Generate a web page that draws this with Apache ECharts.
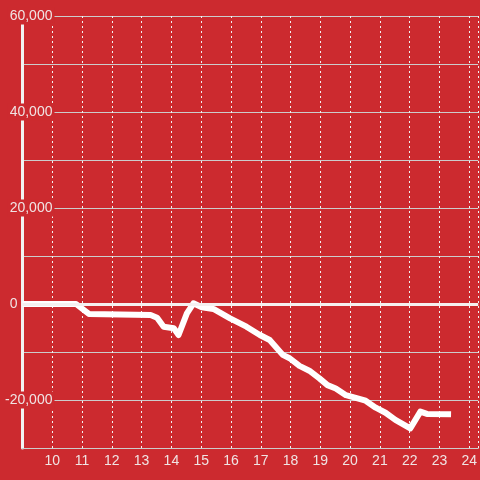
<!DOCTYPE html>
<html>
<head>
    <meta charset="utf-8">
    <title>line</title>
    <script src="https://cdn.jsdelivr.net/npm/echarts@6/dist/echarts.min.js"></script>
    <style>
        *{ margin:0; padding:0; }
        body{ background:#cc2a2f; }
        #main{ width:480px; height:480px; }
    </style>
</head>
<body>
<div id="main"></div>
<script type="text/javascript">
    // x positions (hours) and values
    var xs = [9, 10.8, 11.23, 13.3, 13.52, 13.74, 14.08, 14.24, 14.52, 14.74, 15.02, 15.41,
              15.97, 16.52, 16.97, 17.3, 17.74, 17.97, 18.3, 18.63, 18.97, 19.24, 19.52,
              19.86, 20.13, 20.52, 20.86, 21.19, 21.52, 22.02, 22.36, 22.58, 23.39];
    var ys = [0, 0, -2080, -2290, -2850, -4730, -5060, -6460, -1940, 150, -690, -1040,
              -2980, -4730, -6460, -7500, -10600, -11300, -12900, -13900, -15500, -16900, -17600,
              -19000, -19450, -20150, -21600, -22650, -24150, -25900, -22430, -22900, -22980];
    var xTicks = [10, 11, 12, 13, 14, 15, 16, 17, 18, 19, 20, 21, 22, 23, 24];
    var yTicks = [-20000, 20000, 40000, 60000];

    var bg = '#cc2a2f';
    var txt = '#f0e4e4';

    var data = [];
    for (var i = 0; i < xs.length; i++) {
        data.push([xs[i], ys[i]]);
    }

    var chart = echarts.init(document.getElementById('main'));
    var option = {
        backgroundColor: bg,
        animation: false,
        grid: { left: 21, right: 0, top: 16, bottom: 32 },
        xAxis: {
            type: 'value',
            min: 9,
            max: 24.3,
            interval: 1,
            axisLine: { show: true, onZero: false, lineStyle: { color: '#cccccc', width: 1 } },
            axisTick: { show: false },
            axisLabel: {
                customValues: xTicks,
                color: txt,
                fontSize: 14,
                fontFamily: 'Liberation Sans',
                margin: 6
            },
            splitLine: { show: true, lineStyle: { color: '#f2f2f2', type: [2, 3], width: 1 } }
        },
        yAxis: {
            type: 'value',
            min: -30000,
            max: 60000,
            interval: 10000,
            axisLine: { show: true, lineStyle: { color: '#f2f2f2', width: 3 } },
            axisTick: { show: false },
            axisLabel: {
                customValues: yTicks,
                color: txt,
                fontSize: 14,
                fontFamily: 'Liberation Sans',
                align: 'right',
                margin: -32,
                backgroundColor: bg,
                padding: [1, 2, 2, 2],
                formatter: function (v) {
                    return echarts.format.addCommas(v);
                }
            },
            splitLine: { show: true, lineStyle: { color: '#cccccc', width: 1 } }
        },
        series: [{
            type: 'line',
            data: data,
            showSymbol: false,
            lineStyle: { color: '#ffffff', width: 6, join: 'round' },
            itemStyle: { color: '#ffffff' },
            markLine: {
                silent: true,
                symbol: 'none',
                lineStyle: { color: '#f5f0f0', width: 3, type: 'solid' },
                label: {
                    position: 'start',
                    formatter: '0',
                    color: txt,
                    fontSize: 14,
                    fontFamily: 'Liberation Sans',
                    distance: 5
                },
                data: [{ yAxis: 0 }]
            }
        }]
    };
    chart.setOption(option);
</script>
</body>
</html>
